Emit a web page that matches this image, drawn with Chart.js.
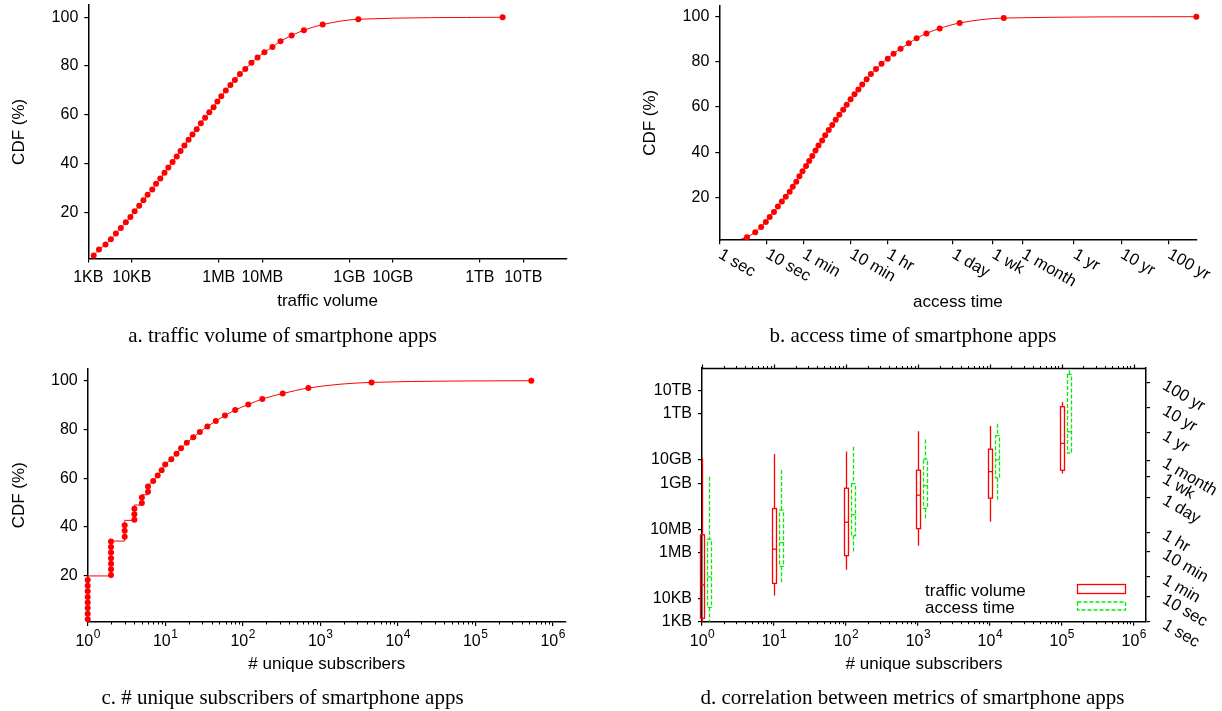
<!DOCTYPE html>
<html><head><meta charset="utf-8">
<script src="https://cdn.jsdelivr.net/npm/chart.js@4.4.0/dist/chart.umd.min.js"></script>
<style>
html,body{margin:0;padding:0;background:#fff;width:1222px;height:711px;overflow:hidden}
canvas{position:absolute;left:0;top:0}
.cap{position:absolute;font-family:'Liberation Serif','Times New Roman',serif;font-size:21px;color:#000;white-space:nowrap;transform:translate(-50%,-50%)}
</style></head><body>
<canvas id="ca" width="1222" height="711"></canvas>
<canvas id="cb" width="1222" height="711"></canvas>
<canvas id="cc" width="1222" height="711"></canvas>
<canvas id="cd" width="1222" height="711"></canvas>
<div class="cap" style="left:282.5px;top:335px">a. traffic volume of smartphone apps</div>
<div class="cap" style="left:913px;top:335px">b. access time of smartphone apps</div>
<div class="cap" style="left:282.5px;top:697px">c. # unique subscribers of smartphone apps</div>
<div class="cap" style="left:912.5px;top:697px">d. correlation between metrics of smartphone apps</div>
<script>
// ---------------- data ----------------
const trafficTickValues = [1e3, 1e4, 1e6, 1e7, 1e9, 1e10, 1e12, 1e13];
const trafficTickLabels = ['1KB', '10KB', '1MB', '10MB', '1GB', '10GB', '1TB', '10TB'];
const timeTickValues = [1, 10, 60, 600, 3600, 86400, 604800, 2592000, 31536000, 315360000, 3153600000];
const timeTickLabels = ['1 sec', '10 sec', '1 min', '10 min', '1 hr', '1 day', '1 wk', '1 month', '1 yr', '10 yr', '100 yr'];
const cdfTickValues = [20, 40, 60, 80, 100];
const subsTickValues = [1, 10, 100, 1000, 10000, 100000, 1000000];
const subsTickExponents = ['0', '1', '2', '3', '4', '5', '6'];

// a. traffic volume CDF
const trafficBytes = [1.33e3, 1.76e3, 2.49e3, 3.30e3, 4.31e3, 5.60e3, 7.30e3, 9.29e3, 1.16e4, 1.48e4, 1.85e4, 2.31e4, 2.95e4, 3.61e4, 4.52e4, 5.65e4, 6.92e4, 8.65e4, 1.08e5, 1.32e5, 1.62e5, 2.02e5, 2.48e5, 3.10e5, 3.87e5, 4.84e5, 6.05e5, 7.57e5, 9.27e5, 1.14e6, 1.45e6, 1.85e6, 2.35e6, 3.06e6, 4.06e6, 5.62e6, 7.78e6, 1.12e7, 1.71e7, 2.62e7, 4.72e7, 9.04e7, 2.44e8, 1.61e9, 3.35e12];
const trafficCdf = [2.3, 4.7, 6.8, 8.9, 11.3, 13.6, 15.9, 18.1, 20.4, 22.7, 24.9, 27.2, 29.4, 31.7, 33.9, 36.2, 38.4, 40.6, 42.9, 45.1, 47.4, 49.8, 51.9, 54.1, 56.5, 58.8, 61.0, 63.1, 65.5, 67.6, 70.0, 72.2, 74.3, 76.7, 78.8, 81.3, 83.5, 85.7, 87.8, 90.2, 92.5, 94.7, 97.0, 99.2, 100];

// b. access time CDF (seconds)
const accessSeconds = [3.85, 5.75, 7.66, 9.62, 11.6, 14.3, 17.3, 21.0, 25.4, 30.7, 35.7, 42.4, 49.3, 57.4, 68.2, 79.4, 92.5, 108, 125, 149, 173, 206, 244, 289, 344, 415, 493, 596, 721, 871, 1050, 1300, 1600, 2050, 2680, 3630, 4830, 6790, 10100, 14800, 23900, 45500, 120000, 1.03e6, 1.21e10];
const accessCdf = [2.3, 4.5, 6.9, 9.1, 11.3, 13.5, 15.9, 18.1, 20.3, 22.5, 24.7, 26.9, 29.3, 31.5, 33.9, 36.1, 38.3, 40.7, 42.9, 45.2, 47.5, 49.8, 52.0, 54.4, 56.6, 58.8, 61.0, 63.4, 65.6, 67.8, 70.0, 72.3, 74.6, 76.8, 79.2, 81.4, 83.6, 85.8, 88.2, 90.4, 92.6, 94.8, 97.2, 99.4, 100];
const accessLineStartX = [2.9];
const accessLineStartY = [1.5];

// c. unique subscribers CDF
const subscribersCount = [1, 1, 1, 1, 1, 1, 1, 1, 2, 2, 2, 2, 2, 2, 2, 3, 3, 3, 4, 4, 4, 5, 5, 6, 6, 7, 8, 9, 10, 12, 14, 16, 19, 23, 28, 35, 45, 59, 80, 118, 179, 328, 703, 4600, 530000];
const subscribersCdf = [2.1, 4.4, 6.7, 9.0, 11.3, 13.6, 15.9, 18.2, 20.3, 22.6, 24.9, 27.2, 29.5, 31.8, 34.0, 36.0, 38.4, 40.7, 42.9, 45.2, 47.5, 49.8, 52.1, 54.4, 56.6, 58.8, 61.1, 63.3, 65.6, 67.8, 70.0, 72.3, 74.5, 76.8, 79.0, 81.2, 83.5, 85.7, 88.0, 90.2, 92.5, 94.7, 97.0, 99.3, 100];
const subscribersLineX = [1, 1, 2, 2, 3, 3, 4, 4, 5, 5, 6, 6, 7, 8, 9, 10, 12, 14, 16, 19, 23, 28, 35, 45, 59, 80, 118, 179, 328, 703, 4600, 530000];
const subscribersLineY = [1.2, 19.9, 19.9, 34.2, 34.2, 42.7, 42.7, 49.0, 49.0, 53.2, 53.2, 57.4, 58.8, 61.1, 63.3, 65.6, 67.8, 70.0, 72.3, 74.5, 76.8, 79.0, 81.2, 83.5, 85.7, 88.0, 90.2, 92.5, 94.7, 97.0, 99.3, 100];

// d. box plots per subscriber bin
const boxSubscribers = [1, 10, 100, 1000, 10000, 100000];
const boxAccessSubscribers = [1.25, 12.5, 125, 1250, 12500, 125000];
const trafficMin    = [1.0e3, 1.35e4, 1.78e5, 1.95e6, 2.14e7, 2.63e9];
const trafficQ1     = [1.41e3, 4.57e4, 7.24e5, 1.07e7, 2.24e8, 3.63e9];
const trafficMedian = [3.9e4, 1.38e6, 2.04e7, 3.02e8, 3.16e9, 5.25e10];
const trafficQ3     = [5.75e6, 7.94e7, 6.03e8, 3.63e9, 2.95e10, 2.04e12];
const trafficMax    = [1.2e10, 1.82e10, 2.34e10, 1.78e11, 3.02e11, 3.24e12];
const accessMin     = [1, 35, 617, 1.05e4, 6.92e4, 4.9e6];
const accessQ1      = [3.7, 158, 2630, 3.16e4, 5.13e5, 4.9e6];
const accessMedian  = [60, 1380, 1.78e4, 2.51e5, 2.69e6, 3.47e7];
const accessQ3      = [1900, 2.69e4, 3.02e5, 2.88e6, 2.45e7, 6.61e9];
const accessMax     = [5.75e5, 1.05e6, 8.91e6, 1.70e7, 7.24e7, 9.77e9];

// ---------------- setup ----------------
const FONT = "'Liberation Sans', Arial, Helvetica, sans-serif";
Chart.defaults.font.family = FONT;
Chart.defaults.font.size = 16;
Chart.defaults.color = '#000';
const W = 1222, H = 711, XH = 40;
const RED = '#ff0000', GREEN = '#00ee00';

function txt(ctx, s, x, y, size, align, base, rot) {
  ctx.save();
  ctx.font = size + 'px ' + FONT; ctx.fillStyle = '#000';
  ctx.textAlign = align || 'center'; ctx.textBaseline = base || 'middle';
  ctx.translate(x, y); if (rot) ctx.rotate(rot);
  ctx.fillText(s, 0, 0); ctx.restore();
}
function seg(ctx, x1, y1, x2, y2) { ctx.beginPath(); ctx.moveTo(x1, y1); ctx.lineTo(x2, y2); ctx.stroke(); }
function supLabel(ctx, x, yBase, exp) {
  ctx.save(); ctx.fillStyle = '#000'; ctx.textAlign = 'left'; ctx.textBaseline = 'alphabetic';
  ctx.font = '16px ' + FONT; const w1 = ctx.measureText('10').width;
  ctx.font = '12px ' + FONT; const w2 = ctx.measureText(exp).width;
  const x0 = x - (w1 + w2) / 2;
  ctx.font = '16px ' + FONT; ctx.fillText('10', x0, yBase);
  ctx.font = '12px ' + FONT; ctx.fillText(exp, x0 + w1 + 0.5, yBase - 8);
  ctx.restore();
}
function minorTicks(ctx, scale, y, dir, len) {
  ctx.save(); ctx.strokeStyle = '#000'; ctx.lineWidth = 1;
  for (let d = 1; d <= 1e6; d *= 10) {
    for (let m = 2; m <= 9; m++) {
      const v = m * d; if (v > scale.max) break;
      const px = Math.round(scale.getPixelForValue(v)) + 0.5;
      seg(ctx, px, y, px, y + dir * len);
    }
  }
  ctx.restore();
}
function setTicks(vals) { return s => { s.ticks = vals.map(v => ({ value: v })); }; }
const grid = () => ({ display: true, drawOnChartArea: false, drawTicks: true, tickLength: 4, color: '#000', lineWidth: 1.2 });
const border = () => ({ display: true, color: '#000', width: 1.5 });

function xAxis(min, max, vals, labels) {
  return {
    type: 'logarithmic', position: 'bottom', bounds: 'data', min, max,
    border: border(), grid: grid(),
    afterBuildTicks: setTicks(vals),
    ticks: { autoSkip: false, maxRotation: 0, minRotation: 0, padding: 5, font: { size: 16 }, color: '#000',
      callback: (v, i) => labels ? labels[i] : '' },
    afterFit(s) { s.height = XH; s.paddingLeft = 0; s.paddingRight = 0; }
  };
}
function yAxis(type, min, max, vals, labels, width, position) {
  return {
    type, position: position || 'left', bounds: 'data', min, max,
    border: border(), grid: grid(),
    afterBuildTicks: setTicks(vals),
    ticks: { autoSkip: false, padding: 6, font: { size: 16 }, color: '#000',
      callback: (v, i) => labels ? labels[i] : '' },
    afterFit(s) { s.width = width; s.paddingTop = 0; s.paddingBottom = 0; }
  };
}
function padFor(a, y2w) {
  return { left: 0, top: a.top, right: W - a.right - (y2w || 0), bottom: H - a.bottom - XH };
}
function cdfDataset(xs, ys, showLine) {
  return {
    data: xs.map((x, i) => ({ x, y: ys[i] })),
    showLine, borderColor: RED, borderWidth: 1, backgroundColor: RED,
    pointRadius: 3, pointBackgroundColor: RED, pointBorderWidth: 0,
    cubicInterpolationMode: 'monotone', clip: false
  };
}
const baseOpts = { responsive: false, animation: false, devicePixelRatio: 1, events: [],
  plugins: { legend: { display: false }, tooltip: { enabled: false } } };

// ---------------- a ----------------
const areaA = { left: 88.3, right: 566.8, top: 5.1, bottom: 258.6 };
new Chart(document.getElementById('ca'), {
  type: 'scatter',
  data: { datasets: [cdfDataset(trafficBytes, trafficCdf, true)] },
  options: Object.assign({}, baseOpts, {
    layout: { padding: padFor(areaA) },
    scales: {
      x: xAxis(1e3, 1e14, trafficTickValues, trafficTickLabels),
      y: yAxis('linear', 1, 105, cdfTickValues, cdfTickValues.map(String), areaA.left)
    }
  }),
  plugins: [{ id: 'ta', afterDraw(c) {
    const a = c.chartArea, ctx = c.ctx;
    txt(ctx, 'CDF (%)', 19.5, (a.top + a.bottom) / 2, 17, 'center', 'middle', -Math.PI / 2);
    txt(ctx, 'traffic volume', (a.left + a.right) / 2, 301, 17);
  } }]
});

// ---------------- b ----------------
const areaB = { left: 719.3, right: 1196.5, top: 5.4, bottom: 240.2 };
const lineStartB = cdfDataset(accessLineStartX.concat([accessSeconds[0]]), accessLineStartY.concat([accessCdf[0]]), true);
lineStartB.pointRadius = 0;
new Chart(document.getElementById('cb'), {
  type: 'scatter',
  data: { datasets: [lineStartB, cdfDataset(accessSeconds, accessCdf, true)] },
  options: Object.assign({}, baseOpts, {
    layout: { padding: padFor(areaB) },
    scales: {
      x: xAxis(1, 1.22e10, timeTickValues, null),
      y: yAxis('linear', 1, 105, cdfTickValues, cdfTickValues.map(String), areaB.left)
    }
  }),
  plugins: [{ id: 'tb', afterDraw(c) {
    const a = c.chartArea, ctx = c.ctx, xs = c.scales.x;
    timeTickValues.forEach((v, i) => {
      txt(ctx, timeTickLabels[i], xs.getPixelForValue(v) + 4.5, a.bottom + 6, 16.5, 'left', 'top', Math.PI / 6);
    });
    txt(ctx, 'CDF (%)', 650.5, (a.top + a.bottom) / 2, 17, 'center', 'middle', -Math.PI / 2);
    txt(ctx, 'access time', (a.left + a.right) / 2, 302, 17);
  } }]
});

// ---------------- c ----------------
const areaC = { left: 87.7, right: 565.9, top: 368.5, bottom: 622 };
const lineC = cdfDataset(subscribersLineX, subscribersLineY, true);
lineC.pointRadius = 0;
new Chart(document.getElementById('cc'), {
  type: 'scatter',
  data: { datasets: [lineC, cdfDataset(subscribersCount, subscribersCdf, false)] },
  options: Object.assign({}, baseOpts, {
    layout: { padding: padFor(areaC) },
    scales: {
      x: xAxis(1, 1.48e6, subsTickValues, null),
      y: yAxis('linear', 1, 105, cdfTickValues, cdfTickValues.map(String), areaC.left)
    }
  }),
  plugins: [{ id: 'tc', afterDraw(c) {
    const a = c.chartArea, ctx = c.ctx, xs = c.scales.x;
    minorTicks(ctx, xs, a.bottom, 1, 2.5);
    subsTickValues.forEach((v, i) => supLabel(ctx, xs.getPixelForValue(v), 646, subsTickExponents[i]));
    txt(ctx, 'CDF (%)', 19.5, (a.top + a.bottom) / 2, 17, 'center', 'middle', -Math.PI / 2);
    txt(ctx, '# unique subscribers', (a.left + a.right) / 2, 664, 17);
  } }]
});

// ---------------- d ----------------
const areaD = { left: 702, right: 1146, top: 367.7, bottom: 621.7 };
const Y2W = 60;
function drawBox(ctx, xs, ys, x, lo, q1, med, q3, hi, color, dash) {
  const px = Math.round(xs.getPixelForValue(x)) + 0.5;
  const pLo = ys.getPixelForValue(lo), pQ1 = ys.getPixelForValue(q1), pMed = ys.getPixelForValue(med);
  const pQ3 = ys.getPixelForValue(q3), pHi = ys.getPixelForValue(hi);
  ctx.save(); ctx.strokeStyle = color; ctx.lineWidth = 1.3; ctx.setLineDash(dash);
  seg(ctx, px, pHi, px, pQ3);
  seg(ctx, px, pQ1, px, pLo);
  ctx.strokeRect(px - 2, pQ3, 4, pQ1 - pQ3);
  seg(ctx, px - 2, pMed, px + 2, pMed);
  ctx.restore();
}
new Chart(document.getElementById('cd'), {
  type: 'scatter',
  data: { datasets: [] },
  options: Object.assign({}, baseOpts, {
    layout: { padding: padFor(areaD, Y2W) },
    scales: {
      x: xAxis(1, 1.48e6, subsTickValues, null),
      y: yAxis('logarithmic', 1e3, 1e14, trafficTickValues, trafficTickLabels, areaD.left),
      y2: yAxis('logarithmic', 1, 1.22e10, timeTickValues, null, Y2W, 'right')
    }
  }),
  plugins: [{ id: 'td',
    afterDatasetsDraw(c) {
      const ctx = c.ctx, xs = c.scales.x, ys = c.scales.y, y2 = c.scales.y2;
      boxSubscribers.forEach((x, i) => drawBox(ctx, xs, ys, x, trafficMin[i], trafficQ1[i], trafficMedian[i], trafficQ3[i], trafficMax[i], RED, []));
      boxAccessSubscribers.forEach((x, i) => drawBox(ctx, xs, y2, x, accessMin[i], accessQ1[i], accessMedian[i], accessQ3[i], accessMax[i], GREEN, [4, 2]));
    },
    afterDraw(c) {
      const a = c.chartArea, ctx = c.ctx, xs = c.scales.x, y2 = c.scales.y2;
      ctx.save(); ctx.strokeStyle = '#000'; ctx.lineWidth = 1.5;
      const ty = Math.round(a.top) + 0.5;
      seg(ctx, a.left, ty, a.right, ty);
      ctx.lineWidth = 1.2;
      subsTickValues.forEach(v => { const px = Math.round(xs.getPixelForValue(v)) + 0.5; seg(ctx, px, ty, px, ty - 4); });
      ctx.restore();
      minorTicks(ctx, xs, ty, -1, 2.5);
      minorTicks(ctx, xs, a.bottom, 1, 2.5);
      subsTickValues.forEach((v, i) => supLabel(ctx, xs.getPixelForValue(v), 646, subsTickExponents[i]));
      timeTickValues.forEach((v, i) => {
        txt(ctx, timeTickLabels[i], a.right + 22, y2.getPixelForValue(v) - 5, 16.5, 'left', 'top', Math.PI / 6);
      });
      txt(ctx, '# unique subscribers', (a.left + a.right) / 2, 664, 17);
      txt(ctx, 'traffic volume', 925, 596, 17, 'left', 'alphabetic');
      txt(ctx, 'access time', 925, 612.5, 17, 'left', 'alphabetic');
      ctx.save(); ctx.lineWidth = 1.3;
      ctx.strokeStyle = RED; ctx.strokeRect(1077.5, 584.5, 48, 9);
      ctx.strokeStyle = GREEN; ctx.setLineDash([4, 2]); ctx.strokeRect(1077.5, 602, 48, 8);
      ctx.restore();
    }
  }]
});
</script>
</body></html>
